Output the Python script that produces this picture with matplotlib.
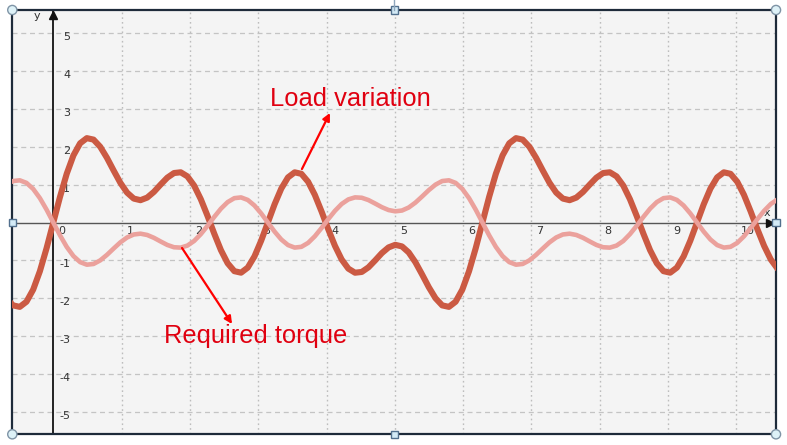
import numpy as np
import matplotlib
matplotlib.use('Agg')
import matplotlib.pyplot as plt
from matplotlib.patches import Circle, Rectangle
from matplotlib.transforms import IdentityTransform

# sample grid: steps of pi/32 from -7 to 109
t = np.arange(-7, 110) * np.pi / 32

load_variation = [
    -1.998, -2.187, -2.226, -2.090, -1.770, -1.285, -0.676,
    0.000, 0.676, 1.285, 1.770, 2.090, 2.226, 2.187, 1.998, 1.707, 1.371, 1.048, 0.789,
    0.631, 0.589, 0.657, 0.807, 1.000, 1.183, 1.305, 1.325, 1.217, 0.975, 0.614, 0.175,
    -0.293, -0.730, -1.075, -1.284, -1.324, -1.190, -0.895, -0.480,
    0.000, 0.480, 0.895, 1.190, 1.324, 1.284, 1.075, 0.730, 0.293, -0.175, -0.614, -0.975,
    -1.217, -1.325, -1.305, -1.183, -1.000, -0.807, -0.657, -0.589, -0.631, -0.789, -1.048,
    -1.371, -1.707, -1.998, -2.187, -2.226, -2.090, -1.770, -1.285, -0.676,
    0.000, 0.676, 1.285, 1.770, 2.090, 2.226, 2.187, 1.998, 1.707, 1.371, 1.048, 0.789,
    0.631, 0.589, 0.657, 0.807, 1.000, 1.183, 1.305, 1.325, 1.217, 0.975, 0.614, 0.175,
    -0.293, -0.730, -1.075, -1.284, -1.324, -1.190, -0.895, -0.480,
    0.000, 0.480, 0.895, 1.190, 1.324, 1.284, 1.075, 0.730, 0.293, -0.175, -0.614, -0.975,
    -1.217, -1.325,
]

required_torque = [
    0.999, 1.094, 1.113, 1.045, 0.885, 0.643, 0.338,
    0.000, -0.338, -0.643, -0.885, -1.045, -1.113, -1.094, -0.999, -0.854, -0.686, -0.524, -0.395,
    -0.316, -0.295, -0.329, -0.404, -0.500, -0.592, -0.653, -0.663, -0.609, -0.488, -0.307, -0.088,
    0.147, 0.365, 0.538, 0.642, 0.662, 0.595, 0.448, 0.240,
    0.000, -0.240, -0.448, -0.595, -0.662, -0.642, -0.538, -0.365, -0.147, 0.088, 0.307, 0.488,
    0.609, 0.663, 0.653, 0.592, 0.500, 0.404, 0.329, 0.295, 0.316, 0.395, 0.524,
    0.686, 0.854, 0.999, 1.094, 1.113, 1.045, 0.885, 0.643, 0.338,
    0.000, -0.338, -0.643, -0.885, -1.045, -1.113, -1.094, -0.999, -0.854, -0.686, -0.524, -0.395,
    -0.316, -0.295, -0.329, -0.404, -0.500, -0.592, -0.653, -0.663, -0.609, -0.488, -0.307, -0.088,
    0.147, 0.365, 0.538, 0.642, 0.662, 0.595, 0.448, 0.240,
    0.000, -0.240, -0.448, -0.595, -0.662, -0.642, -0.538, -0.365, -0.147, 0.088, 0.307, 0.488,
    0.609, 0.663,
]

x_ticks = [0, 1, 2, 3, 4, 5, 6, 7, 8, 9, 10]
y_ticks = [-5, -4, -3, -2, -1, 1, 2, 3, 4, 5]

W, H = 787, 445
fig = plt.figure(figsize=(W / 100, H / 100), dpi=100, facecolor='white')

# frame in pixels
L, R, T, B = 12.3, 776.0, 10.0, 434.3
ax = fig.add_axes([L / W, (H - B) / H, (R - L) / W, (B - T) / H])
ax.set_facecolor('#F4F4F4')

x0, y0 = 53.3, 222.5      # pixel position of origin
sx, sy = 68.3, 37.9       # pixels per unit
ax.set_xlim((L - x0) / sx, (R - x0) / sx)
ax.set_ylim((y0 - B) / sy, (y0 - T) / sy)

for s in ax.spines.values():
    s.set_color('#1E2B3A')
    s.set_linewidth(1.6)
ax.set_xticks([])
ax.set_yticks([])

# grid
for yv in y_ticks:
    ax.axhline(yv, color='#C4C4C4', lw=0.9, ls=(0, (4, 3)), zorder=1)
for xv in x_ticks[1:]:
    ax.axvline(xv, color='#BDBDBD', lw=1.0, ls=(0, (1.2, 2.2)), zorder=1)

# axes lines
ax.axhline(0, color='#555555', lw=1.0, zorder=2)
ax.axvline(0, color='#111111', lw=1.3, zorder=2)
xmax = (R - x0) / sx
ymax = (y0 - T) / sy
ax.plot([xmax - 0.09], [0], marker='>', color='#111111', ms=6, clip_on=False, zorder=3)
ax.plot([0], [ymax - 0.12], marker='^', color='#111111', ms=6, clip_on=False, zorder=3)
ax.annotate('y', (0, ymax), xytext=(-16, -6), textcoords='offset pixels',
            ha='center', va='center', fontsize=8, color='#333333')
ax.annotate('x', (xmax, 0), xytext=(-9, 10), textcoords='offset pixels',
            ha='center', va='center', fontsize=8, color='#333333')

# tick labels
for xv in x_ticks:
    ax.annotate(str(xv), (xv, 0), xytext=(5, -8), textcoords='offset pixels',
                ha='left', va='center', fontsize=8, color='#333333', zorder=2)
for yv in y_ticks:
    ax.annotate(str(yv), (0, yv), xytext=(17, -4), textcoords='offset pixels',
                ha='right', va='center', fontsize=8, color='#333333', zorder=2)

# curves
ax.plot(t, load_variation, color='#CB5A43', lw=4.4, solid_joinstyle='round',
        solid_capstyle='butt', zorder=4)
ax.plot(t, required_torque, color='#EBA19C', lw=3.3, solid_joinstyle='round',
        solid_capstyle='butt', zorder=5)

# annotations
font = ['Liberation Sans', 'DejaVu Sans']
ax.text(3.17, 3.07, 'Load variation', color='#E00010', fontsize=18.4, family=font,
        ha='left', va='baseline', zorder=6)
ax.annotate('', xy=(4.05, 2.89), xytext=(3.64, 1.41),
            arrowprops=dict(arrowstyle='-|>', color='#FF0000', lw=1.6, mutation_scale=11,
                            shrinkA=0, shrinkB=0), zorder=6)
ax.text(1.62, -3.18, 'Required torque', color='#E00010', fontsize=18.4, family=font,
        ha='left', va='baseline', zorder=6)
ax.annotate('', xy=(2.617, -2.678), xytext=(1.885, -0.673),
            arrowprops=dict(arrowstyle='-|>', color='#FF0000', lw=1.6, mutation_scale=11,
                            shrinkA=0, shrinkB=0), zorder=6)

# selection handles (pixel coords, origin top-left)
ident = IdentityTransform()
midx = (L + R) / 2
midy = (T + B) / 2
fig.add_artist(plt.Line2D([midx, midx], [H - T, H], color='#8FA6BC', lw=1.0, transform=ident))
for px, py in [(L, T), (R, T), (L, B), (R, B)]:
    fig.add_artist(Circle((px, H - py), 4.6, facecolor='#DDF1F7', edgecolor='#7F94A6',
                          lw=1.0, transform=ident))
for px, py in [(midx, T), (midx, B), (L, midy), (R, midy)]:
    fig.add_artist(Rectangle((px - 3.6, H - py - 3.6), 7.2, 7.2, facecolor='#D3EAF6',
                             edgecolor='#52708E', lw=1.0, transform=ident))

fig.savefig('out.png', dpi=100, facecolor='white')
